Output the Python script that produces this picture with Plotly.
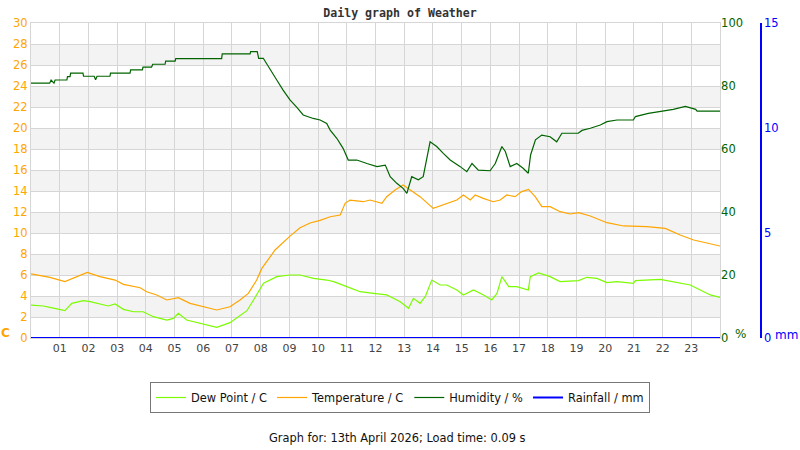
#!/usr/bin/env python3
import plotly.graph_objects as go

# hour-of-day labels on the x axis
hour_ticks = list(range(1, 24))
hour_labels = [f"{h:02d}" for h in hour_ticks]

# Dew point, C
dew_hours = [0.00, 0.43, 0.66, 1.18, 1.42, 1.82, 2.06, 2.40, 2.69, 2.93, 3.22, 3.57, 3.91,
             4.26, 4.73, 4.96, 5.13, 5.42, 5.89, 6.47, 6.93, 7.22, 7.52, 7.75, 8.10, 8.56,
             9.02, 9.37, 9.84, 10.30, 10.54, 11.00, 11.46, 11.93, 12.39, 12.62, 12.86, 13.15,
             13.32, 13.55, 13.73, 13.96, 14.25, 14.48, 14.83, 15.06, 15.41, 15.76, 16.05,
             16.23, 16.40, 16.64, 16.92, 17.32, 17.39, 17.68, 18.08, 18.43, 19.07, 19.36,
             19.71, 20.06, 20.41, 20.98, 21.05, 21.92, 22.61, 22.96, 23.31, 23.66, 24.00]
dew_vals = [3.14, 3.05, 2.92, 2.60, 3.30, 3.55, 3.46, 3.21, 3.05, 3.24, 2.73, 2.50, 2.50,
            2.03, 1.71, 1.87, 2.35, 1.71, 1.40, 1.02, 1.46, 2.03, 2.60, 3.62, 5.21, 5.84,
            6.00, 6.00, 5.68, 5.52, 5.37, 4.89, 4.41, 4.25, 4.10, 3.78, 3.46, 2.83,
            3.78, 3.30, 3.94, 5.52, 5.05, 5.05, 4.57, 4.10, 4.57, 4.10, 3.62,
            4.25, 5.84, 4.89, 4.89, 4.57, 5.84, 6.20, 5.84, 5.37, 5.46, 5.78,
            5.68, 5.27, 5.37, 5.21, 5.46, 5.59, 5.27, 5.05, 4.57, 4.10, 3.87]

# Temperature, C
temp_hours = [0.00, 0.66, 1.18, 1.59, 1.96, 2.40, 2.93, 3.22, 3.80, 4.03, 4.38, 4.73, 5.13,
              5.54, 6.00, 6.47, 6.93, 7.28, 7.57, 7.86, 8.04, 8.33, 8.50, 9.02, 9.37, 9.72,
              10.07, 10.42, 10.77, 10.94, 11.11, 11.57, 11.81, 12.22, 12.39, 12.68, 12.96,
              13.21, 13.55, 14.01, 14.48, 14.83, 15.06, 15.30, 15.47, 15.75, 16.10, 16.34,
              16.57, 16.86, 17.09, 17.33, 17.56, 17.79, 18.08, 18.43, 18.78, 19.07, 19.48,
              20.06, 20.64, 21.45, 22.09, 22.61, 23.08, 23.66, 24.00]
temp_vals = [6.10, 5.78, 5.37, 5.84, 6.25, 5.84, 5.52, 5.11, 4.79, 4.41, 4.10, 3.62, 3.84,
             3.30, 2.98, 2.67, 2.98, 3.62, 4.25, 5.52, 6.63, 7.75, 8.38, 9.70, 10.50, 10.95,
             11.20, 11.55, 11.71, 12.83, 13.14, 12.98, 13.14, 12.83, 13.46, 14.10, 14.57,
             14.10, 13.46, 12.35, 12.83, 13.14, 13.62, 13.14, 13.62, 13.30, 12.98, 13.14,
             13.62, 13.46, 13.94, 14.16, 13.46, 12.51, 12.51, 12.03, 11.81, 11.94, 11.62,
             10.98, 10.67, 10.60, 10.44, 9.81, 9.33, 8.95, 8.76]

# Humidity, %
hum_hours = [0.00, 0.65, 0.70, 0.80, 0.84, 1.25, 1.27, 1.36, 1.38, 1.81, 1.83, 2.20, 2.25,
             2.30, 2.75, 2.77, 3.45, 3.47, 3.88, 3.90, 4.20, 4.24, 4.67, 4.69, 5.02, 5.04,
             6.64, 6.66, 7.63, 7.65, 7.88, 7.93, 8.09, 8.33, 8.56, 8.78, 9.02, 9.26, 9.48,
             9.83, 10.07, 10.30, 10.42, 10.65, 10.87, 11.05, 11.35, 11.70, 12.05, 12.34,
             12.51, 12.74, 12.96, 13.09, 13.26, 13.49, 13.66, 13.90, 14.13, 14.36, 14.60,
             14.95, 15.18, 15.36, 15.58, 15.99, 16.17, 16.40, 16.52, 16.69, 16.92, 17.14,
             17.32, 17.40, 17.57, 17.79, 18.08, 18.31, 18.49, 19.06, 19.19, 19.48, 19.83,
             20.06, 20.41, 20.98, 21.05, 21.50, 21.92, 22.37, 22.79, 23.15, 23.20, 24.00]
hum_vals = [80.9, 80.9, 81.9, 80.9, 81.9, 81.9, 83.0, 83.0, 84.1, 84.1, 83.1, 83.1, 82.0,
            83.1, 83.1, 84.1, 84.1, 85.1, 85.1, 86.0, 86.0, 86.9, 86.9, 87.9, 87.9, 88.7,
            88.7, 90.2, 90.2, 90.9, 90.9, 88.8, 88.8, 85.1, 81.9, 78.7, 75.6, 73.2, 70.8,
            69.7, 69.2, 68.1, 66.0, 63.4, 60.2, 56.5, 56.5, 55.4, 54.4, 54.9,
            51.2, 49.1, 47.5, 45.9, 51.2, 50.2, 51.2, 62.3, 60.8, 58.6, 56.5,
            54.4, 52.8, 55.4, 53.3, 53.1, 55.4, 60.8, 59.2, 54.4, 55.4, 53.9,
            52.3, 58.1, 62.9, 64.4, 63.9, 62.3, 65.0, 65.0, 65.9, 66.6, 67.6,
            68.7, 69.2, 69.2, 70.3, 71.3, 71.9, 72.6, 73.5, 72.6, 72.0, 72.0]

# Rainfall, mm
rain_hours = list(range(0, 25))
rain_vals = [0.0] * 25

FONT = "DejaVu Sans"
ORANGE = "#ffa500"
DGREEN = "#006400"
BLUE = "#0000ff"
GRID = "#d6d6d6"

fig = go.Figure()
fig.add_trace(go.Scatter(x=dew_hours, y=dew_vals, name="Dew Point / C", mode="lines",
                         line=dict(color="#7cfc00", width=1.2)))
fig.add_trace(go.Scatter(x=temp_hours, y=temp_vals, name="Temperature / C", mode="lines",
                         line=dict(color=ORANGE, width=1.2)))
fig.add_trace(go.Scatter(x=hum_hours, y=hum_vals, name="Humidity / %", mode="lines",
                         line=dict(color=DGREEN, width=1.2), yaxis="y2"))
fig.add_trace(go.Scatter(x=rain_hours, y=rain_vals, name="Rainfall / mm", mode="lines",
                         line=dict(color=BLUE, width=2), yaxis="y3"))

# alternating grey bands every other 2 C step
for lo in range(2, 30, 4):
    fig.add_shape(type="rect", xref="x domain", x0=0, x1=1, yref="y", y0=lo, y1=lo + 2,
                  fillcolor="#f3f3f3", line_width=0, layer="below")

x_end = 0.92
fig.update_layout(
    width=800, height=450,
    margin=dict(l=31, r=20, t=23, b=112),
    paper_bgcolor="white", plot_bgcolor="white",
    font=dict(family=FONT, size=11, color="#222"),
    title=dict(text="<b>Daily graph of Weather</b>", x=0.5, xanchor="center",
               y=1 - 13 / 450, yanchor="middle", xref="container", yref="container",
               font=dict(family="DejaVu Sans Mono", size=11.6, color="#333")),
    xaxis=dict(domain=[0, x_end], range=[0, 24], tickvals=hour_ticks, ticktext=hour_labels,
               showgrid=True, gridcolor=GRID, zeroline=False, showline=True,
               linecolor=GRID, mirror=True, ticks="", tickfont=dict(color="#444", size=11)),
    yaxis=dict(range=[0, 30], dtick=2, showgrid=True, gridcolor=GRID, zeroline=False,
               tickfont=dict(color=ORANGE, size=11.5), ticks="", showline=True,
               linecolor=GRID, mirror=True),
    yaxis2=dict(range=[0, 100], dtick=20, overlaying="y", side="right", anchor="x",
                showgrid=False, zeroline=False, ticks="",
                tickfont=dict(color=DGREEN, size=11.5)),
    yaxis3=dict(range=[0, 15], dtick=5, overlaying="y", side="right", anchor="free",
                position=(761 - 31) / 749, showgrid=False, zeroline=False, showline=True,
                linecolor=BLUE, linewidth=1.5, ticks="", tickfont=dict(color=BLUE, size=11.5)),
    legend=dict(orientation="h", x=(400 - 31) / 749, xanchor="center",
                y=(338 - 382) / 315, yanchor="top", bordercolor="#777", borderwidth=1,
                font=dict(family=FONT, size=11.4, color="#111"), itemwidth=30,
                tracegroupgap=0),
    showlegend=True,
)

fig.add_annotation(text="<b>C</b>", x=(5.5 - 31) / 749, y=(338 - 333) / 315, xref="paper",
                   yref="paper", xanchor="center", yanchor="middle", showarrow=False,
                   font=dict(color=ORANGE, size=12))
fig.add_annotation(text="%", x=(740 - 31) / 749, y=(338 - 334) / 315, xref="paper",
                   yref="paper", xanchor="center", yanchor="middle", showarrow=False,
                   font=dict(color=DGREEN, size=12))
fig.add_annotation(text="mm", x=(786 - 31) / 749, y=(338 - 335) / 315, xref="paper",
                   yref="paper", xanchor="center", yanchor="middle", showarrow=False,
                   font=dict(color=BLUE, size=12))
fig.add_annotation(text="Graph for: 13th April 2026; Load time: 0.09 s",
                   x=(397 - 31) / 749, y=(338 - 438) / 315, xref="paper", yref="paper",
                   xanchor="center", yanchor="middle", showarrow=False,
                   font=dict(color="#111", size=11.4))

fig.write_html("out.html", config={"displayModeBar": False},
               post_script="document.body.style.margin='0';")
